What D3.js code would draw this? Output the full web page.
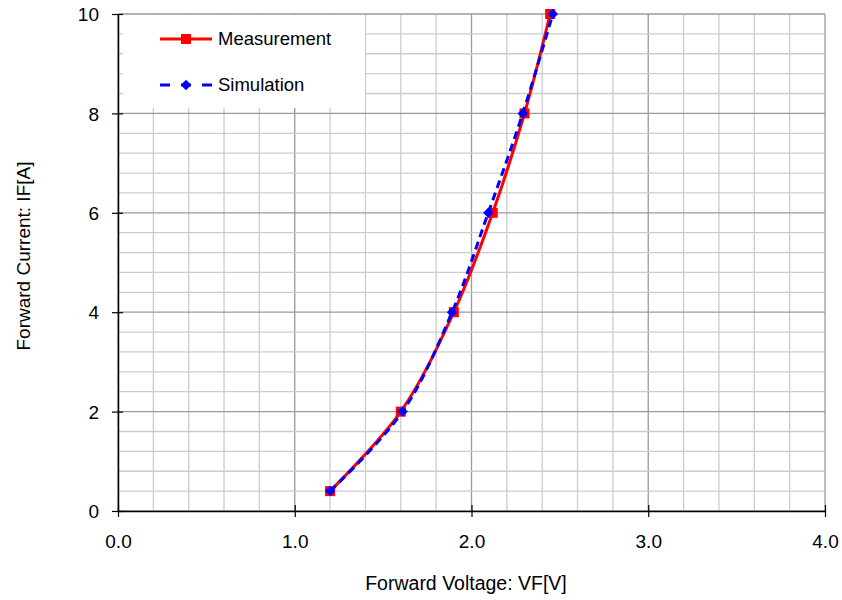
<!DOCTYPE html>
<html><head><meta charset="utf-8">
<script src="https://cdn.jsdelivr.net/npm/d3@7"></script>
<style>body{margin:0;background:#fff}svg{display:block}text{font-family:"Liberation Sans",Arial,sans-serif;fill:#000}</style>
</head><body><svg id="c" width="842" height="600"></svg>
<script>
const measV = [1.2, 1.6, 1.9, 2.12, 2.3, 2.445];
const measI = [0.4, 2, 4, 6, 8, 10];
const simV = [1.2, 1.61, 1.89, 2.095, 2.29, 2.46];
const simI = [0.4, 2, 4, 6, 8, 10];
const xTicks = [0, 1, 2, 3, 4];
const yTicks = [0, 2, 4, 6, 8, 10];
const seriesNames = ["Measurement", "Simulation"];

const svg = d3.select("#c");
const L = 118, R = 825, T = 14, B = 511;
const x = d3.scaleLinear().domain([0, 4]).range([L, R]);
const y = d3.scaleLinear().domain([0, 10]).range([B, T]);

const g = svg.append("g");
const xMinor = d3.range(0, 4.0001, 0.2).map(v => +v.toFixed(2));
const yMinor = d3.range(0, 10.0001, 0.4).map(v => +v.toFixed(2));
g.selectAll(".vx").data(xMinor).join("line")
  .attr("x1", d => x(d)).attr("x2", d => x(d)).attr("y1", T).attr("y2", B)
  .attr("stroke", d => Math.abs(d - Math.round(d)) < 1e-6 ? "#9a9a9a" : "#cccccc").attr("stroke-width", 1.3);
g.selectAll(".hy").data(yMinor).join("line")
  .attr("x1", L).attr("x2", R).attr("y1", d => y(d)).attr("y2", d => y(d))
  .attr("stroke", d => Math.abs(d/2 - Math.round(d/2)) < 1e-6 ? "#9a9a9a" : "#cccccc").attr("stroke-width", 1.3);

// legend box
svg.append("rect").attr("x", 123).attr("y", T + 1).attr("width", 242).attr("height", 93).attr("fill", "#fff");

// axes
const xAxis = d3.axisBottom(x).tickValues(xTicks).tickFormat(d3.format(".1f")).tickSizeInner(6).tickSizeOuter(0);
const yAxis = d3.axisLeft(y).tickValues(yTicks).tickFormat(d3.format("d")).tickSizeInner(6).tickSizeOuter(0);
const gx = svg.append("g").attr("transform", `translate(0,${B})`).call(xAxis);
const gy = svg.append("g").attr("transform", `translate(${L},0)`).call(yAxis);
[gx, gy].forEach(a => {
  a.select(".domain").attr("stroke", "#000").attr("stroke-width", 1.5);
  a.selectAll(".tick line").attr("stroke", "#000").attr("stroke-width", 1.2);
  a.selectAll(".tick text").attr("font-size", 19).attr("font-family", "Liberation Sans, Arial, sans-serif").attr("fill", "#000");
});
gx.selectAll(".tick line").attr("y1", -6);
gy.selectAll(".tick line").attr("x1", 5).attr("x2", -6);
gx.selectAll(".tick text").attr("y", 37).attr("dy", 0);
gy.selectAll(".tick text").attr("x", -19).attr("dy", "0.35em");

// data lines
const meas = measV.map((v, i) => [v, measI[i]]);
const sim = simV.map((v, i) => [v, simI[i]]);
const line = d3.line().x(d => x(d[0])).y(d => y(d[1])).curve(d3.curveCatmullRom.alpha(0.5));
svg.append("path").attr("d", line(meas)).attr("fill", "none").attr("stroke", "#ff0000").attr("stroke-width", 3);
svg.selectAll(".sq").data(meas).join("rect")
  .attr("x", d => x(d[0]) - 5).attr("y", d => y(d[1]) - 5).attr("width", 10).attr("height", 10).attr("fill", "#ff0000");
svg.append("path").attr("d", line(sim)).attr("fill", "none").attr("stroke", "#0000ff").attr("stroke-width", 3).attr("stroke-dasharray", "8,5");
const diamond = d3.symbol().type(d3.symbolDiamond2).size(70);
svg.selectAll(".dm").data(sim).join("path")
  .attr("d", diamond).attr("transform", d => `translate(${x(d[0])},${y(d[1])})`).attr("fill", "#0000ff");

// legend
const lg = svg.append("g");
lg.append("line").attr("x1", 160).attr("x2", 212).attr("y1", 39).attr("y2", 39).attr("stroke", "#ff0000").attr("stroke-width", 3);
lg.append("rect").attr("x", 181).attr("y", 34).attr("width", 10).attr("height", 10).attr("fill", "#ff0000");
lg.append("text").attr("x", 218).attr("y", 39).attr("dy", "0.35em").attr("font-size", 18.5).text(seriesNames[0]);
lg.append("line").attr("x1", 160).attr("x2", 212).attr("y1", 85).attr("y2", 85).attr("stroke", "#0000ff").attr("stroke-width", 3).attr("stroke-dasharray", "10,11");
lg.append("path").attr("d", diamond).attr("transform", "translate(186,85)").attr("fill", "#0000ff");
lg.append("text").attr("x", 218).attr("y", 85).attr("dy", "0.35em").attr("font-size", 18.5).text(seriesNames[1]);

// titles
svg.append("text").attr("x", 466).attr("y", 590).attr("text-anchor", "middle").attr("font-size", 19.5).text("Forward Voltage: VF[V]");
svg.append("text").attr("transform", "translate(30,256) rotate(-90)").attr("text-anchor", "middle").attr("font-size", 19).text("Forward Current: IF[A]");
</script></body></html>
